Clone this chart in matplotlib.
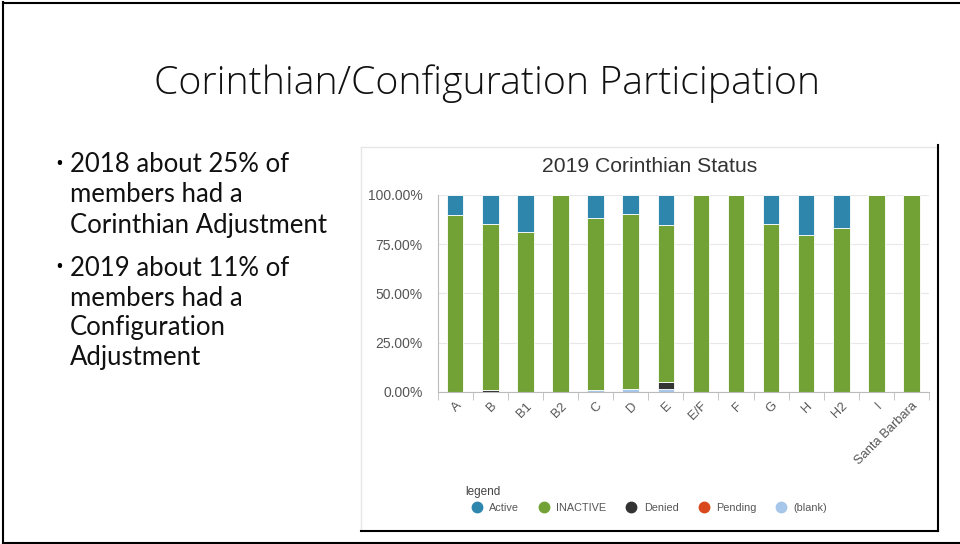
import matplotlib
matplotlib.use("Agg")
import matplotlib.pyplot as plt
from matplotlib.lines import Line2D
import numpy as np

# slide texts
slide_title = "Corinthian/Configuration Participation"
bullets = [
    ["2018 about 25% of", "members had a", "Corinthian Adjustment"],
    ["2019 about 11% of", "members had a", "Configuration", "Adjustment"],
]

# chart data (percent of members)
categories = ["A", "B", "B1", "B2", "C", "D", "E", "E/F", "F", "G", "H", "H2", "I", "Santa Barbara"]
blank = [0, 0, 0, 0, 1.0, 1.5, 1.3, 0, 0, 0, 0, 0, 0, 0]
pending = [0, 0, 0, 0, 0, 0, 0, 0, 0, 0, 0, 0, 0, 0]
denied = [0, 1.0, 0, 0, 0, 0, 3.6, 0, 0, 0, 0, 0, 0, 0]
inactive = [89.8, 84.1, 81.0, 100, 87.5, 88.7, 79.7, 100, 100, 85.1, 79.7, 83.2, 100, 100]
active = [10.2, 14.9, 19.0, 0, 11.5, 9.8, 15.4, 0, 0, 14.9, 20.3, 16.8, 0, 0]

series = [("(blank)", blank, "#a6c6ea"),
          ("Pending", pending, "#d9481c"),
          ("Denied", denied, "#333333"),
          ("INACTIVE", inactive, "#72a236"),
          ("Active", active, "#2f86ad")]
legend_order = ["Active", "INACTIVE", "Denied", "Pending", "(blank)"]

W, H = 960, 544
fig = plt.figure(figsize=(9.6, 5.44), dpi=100)
fig.patch.set_facecolor("white")

def fx(px):
    return px / W

def fy(py):
    return 1 - py / H

# slide border
fig.add_artist(Line2D([fx(3), fx(3)], [fy(2), fy(543)], color="black", lw=1.5))
fig.add_artist(Line2D([fx(3), 1], [fy(2.5), fy(2.5)], color="black", lw=1.5))
fig.add_artist(Line2D([fx(3), 1], [fy(542.5), fy(542.5)], color="black", lw=1.5))

fig.text(fx(487), fy(84), slide_title, ha="center", va="center",
         fontsize=28.3, family="Open Sans", fontweight="light", color="#111111")

# bullet text
y = 165
for group in bullets:
    fig.text(fx(55), fy(y), "\u2022", ha="left", va="center", fontsize=15, family="Open Sans")
    for line in group:
        fig.text(fx(70), fy(y), line, ha="left", va="center", fontsize=18.5, family="Lato", color="#111111")
        y += 30
    y += 13

# chart box
fig.add_artist(Line2D([fx(361), fx(938)], [fy(147), fy(147)], color="#e6e6e6", lw=1))
fig.add_artist(Line2D([fx(361), fx(361)], [fy(147), fy(531)], color="#e6e6e6", lw=1))
fig.add_artist(Line2D([fx(938), fx(938)], [fy(145), fy(531)], color="black", lw=1.5))
fig.add_artist(Line2D([fx(361), fx(938)], [fy(531), fy(531)], color="black", lw=1.5))

fig.text(fx(650), fy(166), "2019 Corinthian Status", ha="center", va="center",
         fontsize=15.2, family="Liberation Sans", color="#333333")

left, right, top, bottom = 437.7, 929, 195, 391.7
ax = fig.add_axes([fx(left), fy(bottom), fx(right - left), fy(top) - fy(bottom)])
x = np.arange(len(categories))
base = np.zeros(len(categories))
handles = {}
for name, vals, col in series:
    vals = np.array(vals, dtype=float)
    ax.bar(x, vals, bottom=base, width=0.47, color=col, edgecolor="white", linewidth=0.6)
    base += vals
    handles[name] = Line2D([], [], marker="o", linestyle="", markersize=7.5,
                           markerfacecolor=col, markeredgecolor=col)

ax.set_xlim(-0.5, len(categories) - 0.5)
ax.set_ylim(0, 100)
ax.set_yticks([0, 25, 50, 75, 100])
ax.set_yticklabels(["0.00%", "25.00%", "50.00%", "75.00%", "100.00%"])
ax.yaxis.grid(True, color="#e8e8e8", lw=0.8)
ax.set_axisbelow(True)
for s in ["top", "right"]:
    ax.spines[s].set_visible(False)
ax.spines["left"].set_color("#bbbbbb")
ax.spines["bottom"].set_color("#bbbbbb")
ax.tick_params(axis="y", length=0, labelsize=10, labelcolor="#555555", pad=11)
ax.set_xticks(x)
ax.set_xticklabels(categories, rotation=45, ha="right", rotation_mode="anchor",
                   fontsize=9.3, color="#555555", family="Liberation Sans")
ax.tick_params(axis="x", which="major", length=0, pad=6)
ax.set_xticks(np.arange(-0.5, len(categories)), minor=True)
ax.tick_params(axis="x", which="minor", length=6, color="#bbbbbb")
for lab in ax.get_yticklabels():
    lab.set_family("Liberation Sans")

leg = fig.legend([handles[n] for n in legend_order], legend_order, title="legend",
                 loc="upper left", bbox_to_anchor=(fx(456), fy(476)), ncol=5, frameon=False,
                 prop={"family": "Liberation Sans", "size": 7.8}, handletextpad=0.15,
                 columnspacing=1.3, alignment="left")
leg.get_title().set_fontsize(8.5)
leg.get_title().set_family("Liberation Sans")
leg.get_title().set_color("#444444")
for t in leg.get_texts():
    t.set_color("#555555")

fig.savefig("out.png", dpi=100)
